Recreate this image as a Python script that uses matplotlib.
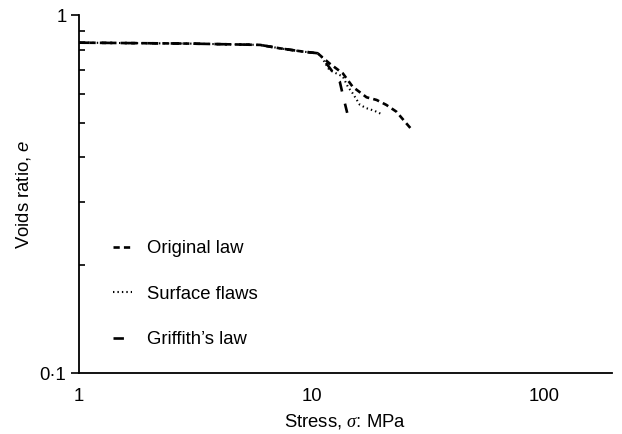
import matplotlib
matplotlib.use('Agg')
import matplotlib.pyplot as plt

plt.rcParams['font.family'] = ['Liberation Sans', 'DejaVu Sans']
plt.rcParams['mathtext.fontset'] = 'custom'
plt.rcParams['mathtext.it'] = 'Liberation Serif:italic'
plt.rcParams['mathtext.sf'] = 'Liberation Sans:italic'
plt.rcParams['lines.scale_dashes'] = False

# stress (MPa) vs voids ratio for the three crushing laws
orig_stress = [1.0, 3.0, 6.0, 7.3, 9.2, 10.6, 11.9, 13.6, 15.0, 17.2, 19.0, 20.9, 23.1, 25.5, 27.0]
orig_e = [0.837, 0.832, 0.825, 0.807, 0.790, 0.782, 0.733, 0.687, 0.630, 0.589, 0.579, 0.561, 0.537, 0.498, 0.477]

flaw_stress = [1.0, 3.0, 6.0, 7.3, 9.2, 10.6, 11.0, 11.9, 13.6, 14.3, 15.0, 16.1, 17.2, 18.6, 19.9]
flaw_e = [0.837, 0.832, 0.825, 0.807, 0.790, 0.782, 0.765, 0.702, 0.673, 0.630, 0.604, 0.561, 0.549, 0.540, 0.529]

grif_stress = [1.0, 3.0, 6.0, 7.3, 9.2, 10.6, 11.7, 13.2, 13.6, 14.2]
grif_e = [0.837, 0.832, 0.825, 0.807, 0.790, 0.782, 0.725, 0.651, 0.598, 0.533]

fs = 13.3

fig = plt.figure(figsize=(6.22, 4.34), dpi=100)
ax = fig.add_axes([79/622, 61/434, 533/622, 358/434])

ax.plot(orig_stress, orig_e, color='black', lw=1.9, dashes=(4.5, 3), label='Original law')
ax.plot(flaw_stress, flaw_e, color='black', lw=1.5, dashes=(1.0, 2.2), label='Surface flaws')
ax.plot(grif_stress, grif_e, color='black', lw=1.9, dashes=(7.5, 9), label="Griffith\u2019s law")

ax.set_xscale('log')
ax.set_yscale('log')
ax.set_xlim(1, 195)
ax.set_ylim(0.1, 1)

ax.set_xticks([1, 10, 100])
ax.set_xticklabels(['1', '10', '100'])
ax.set_xticks([], minor=True)
ax.set_yticks([0.1, 1])
ax.set_yticklabels(['0\u00b71', '1'])
ax.set_yticks([0.2, 0.3, 0.4, 0.5, 0.6, 0.7, 0.8, 0.9], minor=True)
ax.set_yticklabels([], minor=True)

ax.tick_params(axis='x', which='both', length=0, pad=11, labelsize=fs)
ax.tick_params(axis='y', which='major', direction='out', length=6, width=1.2, labelsize=fs, pad=3)
ax.tick_params(axis='y', which='minor', direction='in', length=4, width=1.2)

for side in ['top', 'right']:
    ax.spines[side].set_visible(False)
for side in ['left', 'bottom']:
    ax.spines[side].set_linewidth(1.3)

ax.set_xlabel(r'Stress, $\sigma$: MPa', fontsize=fs, labelpad=5)
ax.set_ylabel(r'Voids ratio, $\mathsf{e}$', fontsize=fs, labelpad=5)

ax.legend(loc='center left', bbox_to_anchor=(0.064, 0.22), frameon=False,
          fontsize=fs, handlelength=1.0, handletextpad=0.85,
          labelspacing=1.55, borderpad=0, borderaxespad=0)

fig.savefig('out.png', dpi=100)
